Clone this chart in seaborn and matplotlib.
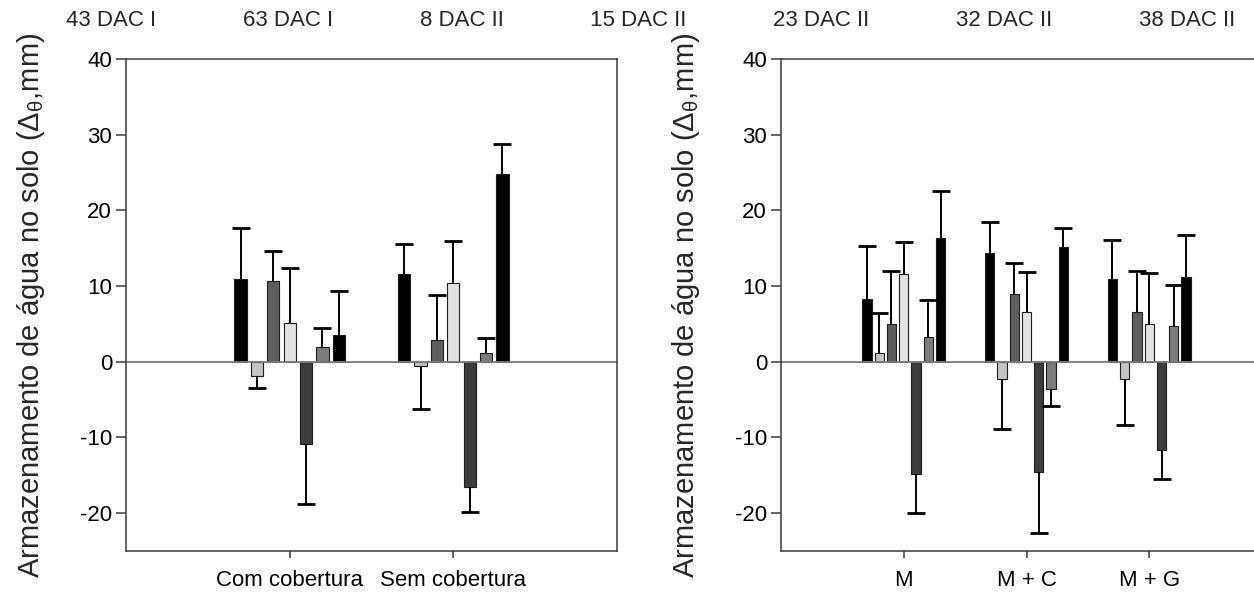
import numpy as np
import pandas as pd
import matplotlib
matplotlib.use("Agg")
import matplotlib.pyplot as plt
import seaborn as sns

# Sampling dates (hue levels) and their grey-scale fills
series = ["43 DAC I", "63 DAC I", "8 DAC II", "15 DAC II",
          "23 DAC II", "32 DAC II", "38 DAC II"]
series_colors = ["#000000", "#c4c4c4", "#5e5e5e", "#e2e2e2",
                 "#3c3c3c", "#7c7c7c", "#000000"]

# Panel A: soil cover
cover_groups = ["Com cobertura", "Sem cobertura"]
com_cobertura = [10.9, -1.9, 10.7, 5.1, -10.8, 1.9, 3.6]
com_cobertura_err = [6.8, 1.6, 4.0, 7.3, 8.0, 2.6, 5.8]
sem_cobertura = [11.6, -0.5, 2.9, 10.4, -16.6, 1.1, 24.8]
sem_cobertura_err = [3.9, 5.7, 5.9, 5.5, 3.3, 2.1, 4.0]

# Panel B: management
mgmt_groups = ["M", "M + C", "M + G"]
m_vals = [8.3, 1.1, 5.0, 11.6, -14.8, 3.3, 16.4]
m_err = [7.0, 5.4, 7.0, 4.2, 5.2, 4.8, 6.2]
mc_vals = [14.4, -2.3, 9.0, 6.6, -14.6, -3.6, 15.1]
mc_err = [4.1, 6.6, 4.0, 5.2, 8.0, 2.2, 2.6]
mg_vals = [11.0, -2.3, 6.6, 5.0, -11.7, 4.7, 11.2]
mg_err = [5.1, 6.1, 5.4, 6.7, 3.8, 5.5, 5.5]

ylabel = r"Armazenamento de água no solo ($\mathregular{\Delta_{\theta}}$,mm)"

sns.set_style("white")
plt.rcParams["font.family"] = ["Liberation Sans", "DejaVu Sans"]
plt.rcParams["mathtext.fontset"] = "custom"
plt.rcParams["mathtext.rm"] = "Liberation Sans"
plt.rcParams["mathtext.it"] = "Liberation Sans:italic"
plt.rcParams["axes.unicode_minus"] = False

W, H = 1254, 595
fig = plt.figure(figsize=(W / 100, H / 100), dpi=100)

ax_w = 491 / W
ax_b = (H - 551) / H
ax_h = (551 - 59) / H
ax_left = fig.add_axes([126 / W, ax_b, ax_w, ax_h])
ax_right = fig.add_axes([781 / W, ax_b, ax_w, ax_h])

spine_color = "#3a3a3a"


def to_long(groups, values, errors):
    rows = []
    for g, vals, errs in zip(groups, values, errors):
        for s, v, e in zip(series, vals, errs):
            rows.append({"grupo": g, "serie": s, "valor": v, "erro": e})
    return pd.DataFrame(rows)


def draw_panel(ax, df, groups, xmax):
    sns.barplot(data=df, x="grupo", y="valor", hue="serie",
                order=groups, hue_order=series, palette=series_colors,
                width=0.7, gap=0.25, errorbar=None, legend=True,
                edgecolor="#1e1e1e", linewidth=0.8, saturation=1, ax=ax)
    # one-sided error bars pointing away from zero, capped only at the tip
    for s, container in zip(series, ax.containers):
        sub = df[df["serie"] == s].set_index("grupo").loc[groups]
        for bar, v, e in zip(container.patches, sub["valor"], sub["erro"]):
            xc = bar.get_x() + bar.get_width() / 2
            tip = v + e if v >= 0 else v - e
            ax.vlines(xc, v, tip, color="black", lw=1.4, zorder=5)
            ax.plot([xc], [tip], marker="_", ms=13, mew=2.0,
                    color="black", zorder=5)
    ax.axhline(0, color="#7a7a7a", lw=1.3, zorder=1)
    ax.set_xlim(-1, xmax)
    ax.set_ylim(-25, 40)
    ax.set_yticks([-20, -10, 0, 10, 20, 30, 40])
    ax.set_xlabel("")
    ax.set_ylabel(ylabel, fontsize=21)
    ax.yaxis.set_label_coords(-0.16, 0.5)
    ax.tick_params(axis="both", direction="out", width=1.1,
                   color=spine_color, labelsize=16, labelcolor="black",
                   left=True, bottom=True)
    ax.tick_params(axis="y", length=7, pad=3)
    ax.tick_params(axis="x", length=5, pad=9)
    for sp in ax.spines.values():
        sp.set_color(spine_color)
        sp.set_linewidth(1.1)
        sp.set_visible(True)


df_cover = to_long(cover_groups, [com_cobertura, sem_cobertura],
                   [com_cobertura_err, sem_cobertura_err])
df_mgmt = to_long(mgmt_groups, [m_vals, mc_vals, mg_vals],
                  [m_err, mc_err, mg_err])

draw_panel(ax_left, df_cover, cover_groups, 2)
draw_panel(ax_right, df_mgmt, mgmt_groups, 3)

handles, labels = ax_left.get_legend_handles_labels()
ax_left.get_legend().remove()
ax_right.get_legend().remove()

leg = fig.legend(handles, labels, loc="upper left",
                 bbox_to_anchor=(66 / W, 1 - 10 / H), ncol=7, frameon=False,
                 fontsize=16, handlelength=0, handletextpad=0,
                 columnspacing=3.9, borderaxespad=0, borderpad=0)
for h in leg.legend_handles:
    h.set_visible(False)

fig.savefig("out.png", dpi=100, facecolor="white")
